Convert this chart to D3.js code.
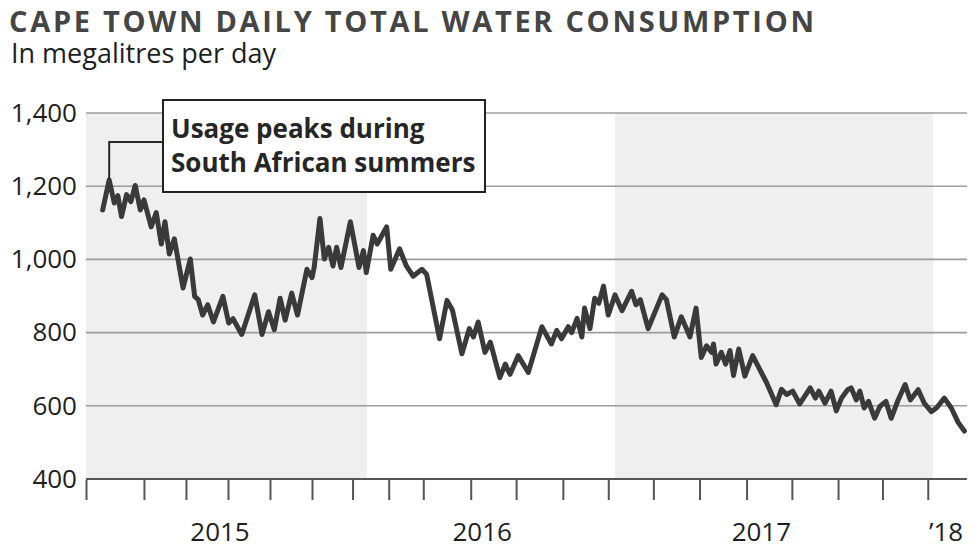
<!DOCTYPE html>
<html><head><meta charset="utf-8">
<script src="https://cdn.jsdelivr.net/npm/d3@7"></script>
<style>
html,body{margin:0;padding:0;background:#fff;}
svg{display:block;font-family:"Open Sans",sans-serif;}
</style></head><body>
<svg id="chart" width="971" height="548"></svg>
<script>
// ---- data ----
const dates = [
"2015-01-01","2015-01-10","2015-01-17","2015-01-22","2015-01-27","2015-02-03","2015-02-09","2015-02-15","2015-02-22","2015-02-27",
"2015-03-09","2015-03-16","2015-03-23","2015-03-28","2015-04-03","2015-04-10","2015-04-22","2015-05-02","2015-05-08","2015-05-13",
"2015-05-19","2015-05-26","2015-06-03","2015-06-16","2015-06-24","2015-06-30","2015-07-12","2015-07-30","2015-08-09","2015-08-18",
"2015-08-26","2015-09-03","2015-09-10","2015-09-19","2015-09-27","2015-10-10","2015-10-17","2015-10-20","2015-10-28","2015-11-03",
"2015-11-09","2015-11-15","2015-11-20","2015-11-26","2015-12-09","2015-12-21","2015-12-27","2015-12-31","2016-01-10","2016-01-16",
"2016-01-30","2016-02-05","2016-02-18","2016-02-28","2016-03-09","2016-03-22","2016-03-29","2016-04-17","2016-04-28","2016-05-06",
"2016-05-20","2016-05-31","2016-06-06","2016-06-13","2016-06-23","2016-07-01","2016-07-15","2016-07-23","2016-07-30","2016-08-11",
"2016-08-26","2016-09-15","2016-09-29","2016-10-07","2016-10-14","2016-10-24","2016-10-29","2016-11-06","2016-11-13","2016-11-17",
"2016-11-25","2016-12-02","2016-12-08","2016-12-15","2016-12-22","2017-01-01","2017-01-09","2017-01-20","2017-01-25","2017-01-30",
"2017-02-08","2017-02-24","2017-03-01","2017-03-10","2017-03-18","2017-03-23","2017-03-28","2017-04-04","2017-04-10","2017-04-16",
"2017-04-22","2017-04-24","2017-04-27","2017-05-03","2017-05-08","2017-05-13","2017-05-17","2017-05-23","2017-05-30","2017-06-08",
"2017-06-24","2017-07-05","2017-07-11","2017-07-17","2017-07-24","2017-08-01","2017-08-13","2017-08-19","2017-08-23","2017-08-30",
"2017-09-06","2017-09-12","2017-09-18","2017-09-25","2017-09-29","2017-10-05","2017-10-09","2017-10-14","2017-10-19","2017-10-26",
"2017-11-01","2017-11-08","2017-11-14","2017-11-22","2017-11-30","2017-12-06","2017-12-15","2017-12-22","2017-12-30","2018-01-05",
"2018-01-14","2018-01-22","2018-01-30","2018-02-06"];
const values = [
1135,1217,1154,1174,1117,1177,1158,1202,1135,1163,
1089,1128,1042,1103,1015,1056,922,1001,899,890,
848,876,829,899,826,838,795,903,795,857,
808,894,834,908,848,973,950,978,1112,1001,
1033,982,1033,978,1103,978,1024,964,1066,1042,
1089,973,1029,982,954,973,959,783,888,862,
742,811,788,829,746,774,677,714,686,737,
691,816,769,806,783,816,800,839,788,867,
811,894,880,927,848,903,860,913,876,890,
811,903,890,788,843,816,788,867,732,764,
746,769,714,746,714,751,683,755,681,737,
663,603,645,631,640,605,649,621,640,607,
640,586,621,644,649,616,640,594,612,566,
598,612,566,616,658,616,644,607,584,594,
621,594,554,531];
const yTicks = [400, 600, 800, 1000, 1200, 1400];
const xTickDates = ["2014-12-09","2015-02-27","2015-04-26","2015-06-23","2015-08-20","2015-10-17","2015-12-12",
"2016-02-02","2016-03-24","2016-06-02","2016-08-08","2016-10-16","2016-12-22",
"2017-02-14","2017-04-08","2017-06-01","2017-07-23","2017-09-14","2017-11-04","2017-12-26"];
const yearLabels = ["2015", "2016", "2017", "\u201918"];
const yearLabelDates = ["2015-06-12", "2016-06-19", "2017-06-18", "2018-01-16"];
const bandEdges = ["2014-12-09", "2016-01-01", "2017-01-01", "2018-01-01", "2018-02-09"];
const bandShaded = [true, false, true, false];
const title = "CAPE TOWN DAILY TOTAL WATER CONSUMPTION";
const subtitle = "In megalitres per day";
const annotationLines = ["Usage peaks during", "South African summers"];
const annotationDate = "2015-01-10";
const annotationValue = 1217;

// ---- layout ----
const parse = d3.timeParse("%Y-%m-%d");
const plotLeft = 86, plotRight = 967, plotTop = 113, plotBottom = 479;
const plotW = plotRight - plotLeft;
const knotFractions = [0, 0.319, 0.6005, 0.9614, 1];

const x = d3.scaleTime()
  .domain(bandEdges.map(parse))
  .range(knotFractions.map(f => plotLeft + f * plotW));
const y = d3.scaleLinear().domain([400, 1400]).range([plotBottom, plotTop]);

const svg = d3.select("#chart");
svg.append("rect").attr("width", 971).attr("height", 548).attr("fill", "#fff");

// year bands
const bands = bandShaded.map((s, i) => ({s, a: parse(bandEdges[i]), b: parse(bandEdges[i + 1])}));
svg.append("g").selectAll("rect").data(bands.filter(d => d.s)).join("rect")
  .attr("x", d => x(d.a)).attr("width", d => x(d.b) - x(d.a))
  .attr("y", y(1400)).attr("height", y(400) - y(1400))
  .attr("fill", "#efefef");

// gridlines
svg.append("g").selectAll("line").data(yTicks).join("line")
  .attr("x1", plotLeft).attr("x2", plotRight)
  .attr("y1", d => y(d)).attr("y2", d => y(d))
  .attr("stroke", d => d === 400 ? "#555" : "#9c9c9c")
  .attr("stroke-width", d => d === 400 ? 2.2 : 1.6);

// y axis labels
const yAxis = d3.axisLeft(y).tickValues(yTicks).tickFormat(d3.format(",")).tickSize(0).tickPadding(9);
const gy = svg.append("g").attr("transform", `translate(${plotLeft},0)`).call(yAxis);
gy.select(".domain").remove();
gy.selectAll("text").attr("font-size", 26).attr("fill", "#1e1e1e").attr("font-family", "Open Sans, sans-serif");

// x axis ticks
const xAxis = d3.axisBottom(x).tickValues(xTickDates.map(parse)).tickFormat("").tickSize(20).tickSizeOuter(0);
const gx = svg.append("g").attr("transform", `translate(0,${plotBottom + 1})`).call(xAxis);
gx.select(".domain").remove();
gx.selectAll("line").attr("stroke", "#555").attr("stroke-width", 2);

// year labels
svg.append("g").selectAll("text").data(yearLabels).join("text")
  .attr("x", (d, i) => x(parse(yearLabelDates[i])))
  .attr("y", 541)
  .attr("text-anchor", "middle")
  .attr("font-size", 26).attr("fill", "#1e1e1e")
  .text(d => d);

// line
const data = dates.map((d, i) => ({date: parse(d), value: values[i]}));
svg.append("path").datum(data)
  .attr("fill", "none").attr("stroke", "#3a3a3a").attr("stroke-width", 5)
  .attr("stroke-linejoin", "round").attr("stroke-linecap", "round")
  .attr("d", d3.line().x(d => x(d.date)).y(d => y(d.value)));

// annotation
const boxX = 163, boxY = 100, boxW = 322, boxH = 92;
const ax = x(parse(annotationDate)), ay = y(annotationValue);
svg.append("path")
  .attr("d", `M${boxX},${boxY + 42}H${ax}V${ay}`)
  .attr("fill", "none").attr("stroke", "#2a2a2a").attr("stroke-width", 2);
svg.append("rect").attr("x", boxX).attr("y", boxY).attr("width", boxW).attr("height", boxH)
  .attr("fill", "#fff").attr("stroke", "#222").attr("stroke-width", 2);
svg.append("g").selectAll("text").data(annotationLines).join("text")
  .attr("x", boxX + 8).attr("y", (d, i) => boxY + 38 + i * 34)
  .attr("font-size", 26).attr("font-weight", 700).attr("fill", "#262626")
  .text(d => d);

// titles
svg.append("text").attr("x", 9).attr("y", 32)
  .attr("font-size", 29).attr("font-weight", 700).attr("fill", "#454545")
  .attr("textLength", 805).attr("lengthAdjust", "spacing")
  .text(title);
svg.append("text").attr("x", 11).attr("y", 63)
  .attr("font-size", 27).attr("fill", "#1e1e1e")
  .text(subtitle);
</script>
</body></html>
